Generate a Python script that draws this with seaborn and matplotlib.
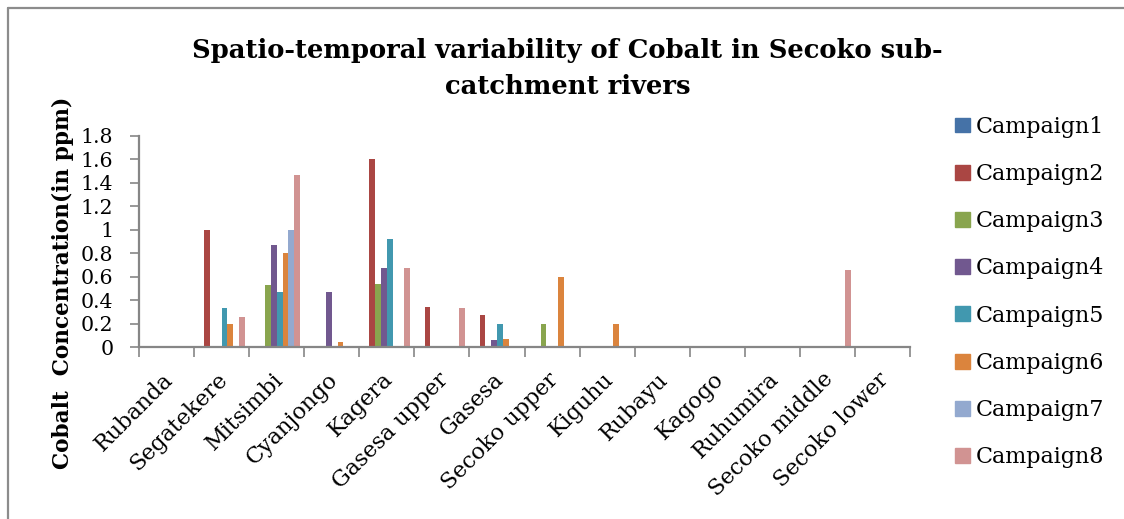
import matplotlib
matplotlib.use("Agg")
import matplotlib.pyplot as plt
import matplotlib.patches as mpatches
import matplotlib.transforms as mtransforms
from matplotlib.lines import Line2D
import seaborn as sns
import pandas as pd

# Sampling sites along the Secoko sub-catchment
sites = ["Rubanda", "Segatekere", "Mitsimbi", "Cyanjongo", "Kagera",
         "Gasesa upper", "Gasesa", "Secoko upper", "Kiguhu", "Rubayu",
         "Kagogo", "Ruhumira", "Secoko middle", "Secoko lower"]

# Cobalt concentration (ppm) for each sampling campaign
campaign1 = [0, 0, 0, 0, 0, 0, 0, 0, 0, 0, 0, 0, 0, 0]
campaign2 = [0, 1.0, 0, 0, 1.6, 0.34, 0.27, 0, 0, 0, 0, 0, 0, 0]
campaign3 = [0, 0, 0.53, 0, 0.54, 0, 0, 0.2, 0, 0, 0, 0, 0, 0]
campaign4 = [0, 0, 0.87, 0.47, 0.67, 0, 0.06, 0, 0, 0, 0, 0, 0, 0]
campaign5 = [0, 0.33, 0.47, 0, 0.92, 0, 0.2, 0, 0, 0, 0, 0, 0, 0]
campaign6 = [0.01, 0.2, 0.8, 0.04, 0, 0, 0.07, 0.6, 0.2, 0, 0, 0, 0, 0]
campaign7 = [0, 0, 1.0, 0, 0, 0, 0, 0, 0, 0, 0, 0, 0, 0]
campaign8 = [0, 0.26, 1.47, 0, 0.67, 0.33, 0, 0, 0, 0, 0, 0, 0.66, 0]

campaign_names = ["Campaign1", "Campaign2", "Campaign3", "Campaign4",
                  "Campaign5", "Campaign6", "Campaign7", "Campaign8"]
campaign_values = [campaign1, campaign2, campaign3, campaign4,
                   campaign5, campaign6, campaign7, campaign8]

y_ticks = [0, 0.2, 0.4, 0.6, 0.8, 1.0, 1.2, 1.4, 1.6, 1.8]
y_tick_labels = ["0", "0.2", "0.4", "0.6", "0.8", "1", "1.2", "1.4", "1.6", "1.8"]

colors = ["#4572A7", "#AA4643", "#89A54E", "#71588F",
          "#4198AF", "#DB843D", "#93A9CF", "#D19392"]

rows = []
for name, vals in zip(campaign_names, campaign_values):
    for site, v in zip(sites, vals):
        rows.append({"site": site, "campaign": name, "value": v})
df = pd.DataFrame(rows)

sns.set_theme(style="white")
plt.rcParams["font.family"] = ["DejaVu Serif"]
plt.rcParams["text.color"] = "black"
plt.rcParams["xtick.color"] = "black"
plt.rcParams["ytick.color"] = "black"

fig = plt.figure(figsize=(11.24, 5.19), dpi=100)
ax = fig.add_axes([0.1237, 0.3314, 0.686, 0.4066])

sns.barplot(data=df, x="site", y="value", hue="campaign", order=sites,
            hue_order=campaign_names, palette=colors, saturation=1,
            errorbar=None, width=8 / 9.5, gap=0, linewidth=0, ax=ax,
            legend=False)

ax.set_xlim(-0.5, len(sites) - 0.5)
ax.set_ylim(0, 1.8)
ax.set_yticks(y_ticks)
ax.set_yticklabels(y_tick_labels)
ax.set_xlabel("")
ax.set_ylabel("")

axis_grey = "#868686"
for side in ["top", "right"]:
    ax.spines[side].set_visible(False)
for side in ["left", "bottom"]:
    ax.spines[side].set_color(axis_grey)
    ax.spines[side].set_linewidth(1.6)

ax.tick_params(axis="y", which="major", direction="out", length=6.5, width=1.2,
               color=axis_grey, labelcolor="black", labelsize=14.8, pad=12,
               left=True)
ax.set_xticks(range(len(sites)))
ax.set_xticklabels(sites, rotation=45, ha="right", va="top",
                   rotation_mode="anchor", fontsize=16, color="black")
ax.tick_params(axis="x", which="major", length=0, pad=14)
ax.set_xticks([i - 0.5 for i in range(len(sites) + 1)], minor=True)
ax.tick_params(axis="x", which="minor", direction="out", length=7, width=1.2,
               color=axis_grey, bottom=True)

# nudge the slanted site names slightly left
shift = mtransforms.ScaledTranslation(-5 / 100, -2 / 100, fig.dpi_scale_trans)
for lbl in ax.get_xticklabels():
    lbl.set_transform(lbl.get_transform() + shift)

fig.text(0.505, 0.868, "Spatio-temporal variability of Cobalt in Secoko sub-\ncatchment rivers",
         ha="center", va="center", fontsize=18.6, fontweight="bold",
         linespacing=1.55, color="black")

fig.text(0.056, 0.455, "Cobalt  Concentration(in ppm)", rotation=90,
         ha="center", va="center", fontsize=15.6, fontweight="bold",
         color="black")

handles = [mpatches.Patch(color=c, label=n) for c, n in zip(colors, campaign_names)]
leg = fig.legend(handles=handles, loc="upper left", bbox_to_anchor=(0.842, 0.794),
                 frameon=False, fontsize=16, handlelength=0.65, handleheight=0.65,
                 handletextpad=0.25, labelspacing=1.135, borderaxespad=0)
for t in leg.get_texts():
    t.set_color("black")

# chart frame (top and left edges)
fig.add_artist(Line2D([8 / 1124, 1.0], [1 - 8 / 519, 1 - 8 / 519],
                      transform=fig.transFigure, color="#8c8c8c", lw=1.6))
fig.add_artist(Line2D([8 / 1124, 8 / 1124], [0.0, 1 - 8 / 519],
                      transform=fig.transFigure, color="#8c8c8c", lw=1.6))

fig.savefig("out.png", dpi=100)
